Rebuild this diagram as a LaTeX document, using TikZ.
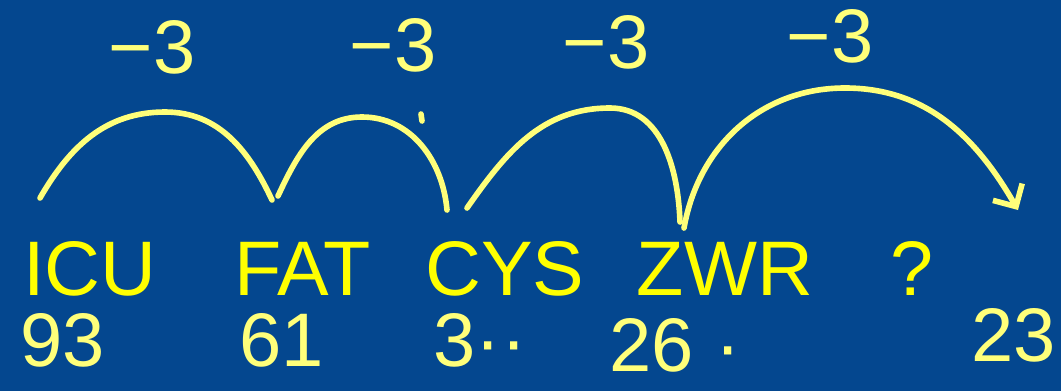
\documentclass[tikz,border=0pt]{standalone}
\usepackage{fontspec}
\setmainfont{Liberation Sans}
\usepackage{xcolor}
\definecolor{slideBack}{HTML}{04478F}
\definecolor{wordInk}  {HTML}{FFFF00}
\definecolor{penInk}   {HTML}{FFFF7A}
\usetikzlibrary{arrows.meta, positioning}
\tikzset{
    word/.style={text=wordInk, inner sep=0pt, anchor=base,
                 font=\fontsize{55}{60}\selectfont},
    score/.style={text=penInk, inner sep=0pt,
                  font=\fontsize{54}{60}\selectfont},
    shiftlbl/.style={text=penInk, inner sep=0pt,
                     font=\fontsize{54}{60}\selectfont},
    hop/.style={penInk, line width=4pt, line cap=round, line join=round},
    hoparrow/.style={hop, -{Straight Barb[length=12pt, width=24pt, line width=4pt]}},
}

\begin{document}
\begin{tikzpicture}[x=0.025cm, y=-0.025cm]
    \fill[slideBack] (0,0) rectangle (1061,391);
    % cipher words
    \node[word] (icu) at (90,295)  {ICU};
    \node[word] (fat) at (303,295) {FAT};
    \node[word] (cys) at (505,295) {CYS};
    \node[word] (zwr) at (725,295) {ZWR};
    \node[word] (qm)  at (912,295) {?};
    % handwritten numbers below
    \node[score] (n1) at (63,340)   {93};
    \node[score] (n2) at (282,340)  {61};
    \node[score] (n3) at (480,340)  {3··};
    \node[score] (n4) at (675,345)  {26 ·};
    \node[score] (n5) at (1014,335) {23};
    % arc ends
    \coordinate (h1s) at (40,198);
    \coordinate (h1e) at (272,200);
    \coordinate (h2s) at (278,196);
    \coordinate (h2e) at (447,210);
    \coordinate (h3s) at (467,208);
    \coordinate (h3e) at (680,222);
    \coordinate (h4s) at (684,228);
    \coordinate (h4e) at (1018,210);
    % hops
    \draw[hop] (h1s) to[out=60, in=180] (165,112) to[out=0, in=115] (h1e);
    \draw[hop] (h2s) to[out=65, in=180] (362,117) to[out=0, in=95] (h2e);
    \draw[hop] (h3s) to[out=55, in=180] (610,108) to[out=0, in=92] (h3e);
    \draw[hoparrow] (h4s) to[out=80, in=180] (845,88) to[out=0, in=120] (h4e);
    \draw[hop] (421,114) -- (422,121);
    % shift labels
    \node[shiftlbl] (s1) at (152,47) {−3};
    \node[shiftlbl] (s2) at (393,45) {−3};
    \node[shiftlbl] (s3) at (606,42) {−3};
    \node[shiftlbl] (s4) at (830,36) {−3};
\end{tikzpicture}
\end{document}
